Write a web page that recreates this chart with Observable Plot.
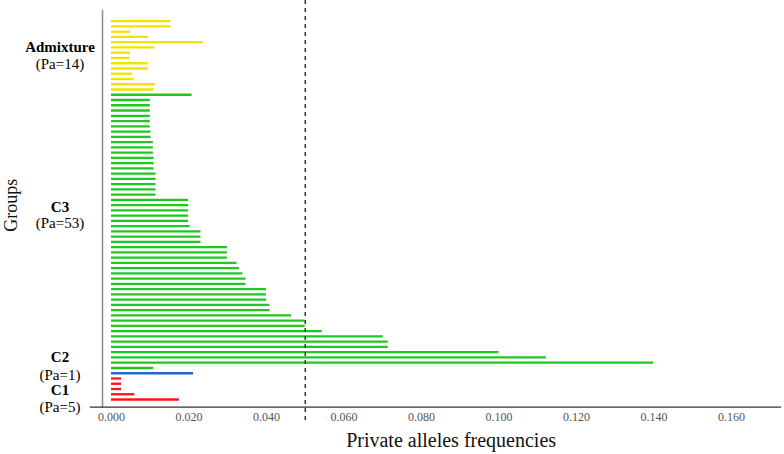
<!DOCTYPE html>
<html><head><meta charset="utf-8">
<script src="https://cdn.jsdelivr.net/npm/d3@7"></script>
<script src="https://cdn.jsdelivr.net/npm/@observablehq/plot@0.6"></script>
<style>body{margin:0;background:#fff}#chart svg{display:block}</style>
</head><body><div id="chart"></div>
<script>
// ---- data (each group listed top → bottom as drawn) ----
const groups = ["C1", "C2", "C3", "Admixture"];
const groupCounts = ["(Pa=5)", "(Pa=1)", "(Pa=53)", "(Pa=14)"];
const admixtureValues = [0.0154, 0.0154, 0.0049, 0.0095, 0.0237, 0.0112, 0.0049, 0.0048, 0.0095, 0.0095, 0.0054, 0.0058, 0.0114, 0.0110];
const c3Values = [0.0208, 0.0100, 0.0100, 0.0100, 0.0100, 0.0100, 0.0100, 0.0102, 0.0102, 0.0108,
  0.0108, 0.0108, 0.0110, 0.0110, 0.0110, 0.0115, 0.0115, 0.0115, 0.0115, 0.0115,
  0.0199, 0.0199, 0.0199, 0.0199, 0.0199, 0.0203, 0.0231, 0.0231, 0.0231, 0.0299,
  0.0299, 0.0299, 0.0324, 0.0330, 0.0339, 0.0347, 0.0347, 0.0400, 0.0400, 0.0400,
  0.0409, 0.0409, 0.0465, 0.0500, 0.0500, 0.0544, 0.0701, 0.0714, 0.0714, 0.1000,
  0.1122, 0.1399, 0.0109];
const c2Values = [0.0212];
const c1Values = [0.0026, 0.0026, 0.0026, 0.0060, 0.0175];
const xTicks = [0, 0.02, 0.04, 0.06, 0.08, 0.10, 0.12, 0.14, 0.16];
const threshold = [0.05];
const xLabel = "Private alleles frequencies";
const yLabel = "Groups";

// ---- build table ----
const valuesByGroup = {Admixture: admixtureValues, C3: c3Values, C2: c2Values, C1: c1Values};
const rows = [];
["Admixture", "C3", "C2", "C1"].forEach(g => valuesByGroup[g].forEach(v => rows.push({group: g, value: v})));
const n = rows.length;
rows.forEach((r, i) => r.idx = n - 1 - i);

// label layout (position along the bar index axis)
const namePos = {C1: 1.81, C2: 8.09, C3: 36.54, Admixture: 67.0};
const countPos = {C1: -1.52, C2: 4.57, C3: 33.6, Admixture: 63.9};
const names = groups.map((g, i) => ({text: g, y: namePos[g]}));
const counts = groups.map((g, i) => ({text: groupCounts[i], y: countPos[g]}));

const colors = ["#ff1414", "#2a62cc", "#1ec81e", "#f0e300"];

const plot = Plot.plot({
  width: 784, height: 454,
  marginTop: 13, marginBottom: 47.3, marginLeft: 102, marginRight: 4,
  x: {domain: [0, 0.16], range: [111, 731]},
  y: {domain: [0, n - 1], range: [399, 20.7], axis: null},
  color: {domain: groups, range: colors},
  style: {fontFamily: "'Liberation Serif', 'Times New Roman', serif", background: "white"},
  marks: [
    Plot.frame({anchor: "left", stroke: "#8a8a8a", strokeWidth: 1.5, insetTop: -3}),
    Plot.frame({anchor: "bottom", stroke: "#333", strokeWidth: 1.3, insetLeft: -12}),
    Plot.ruleY(rows, {y: "idx", x1: 0, x2: "value", stroke: "group", strokeWidth: 2.3}),
    Plot.ruleX(threshold, {stroke: "#2a2a2a", strokeWidth: 1.4, strokeDasharray: "4,4", insetTop: -13, insetBottom: -15}),
    Plot.axisX(xTicks, {tickSize: 0, tickPadding: 5, tickFormat: d3.format(".3f"), fontSize: 12, color: "#555", label: null}),
    Plot.text([xLabel], {frameAnchor: "bottom", lineAnchor: "bottom", dx: 9.6, dy: 40, fontSize: 20, fill: "#111"}),
    Plot.text([yLabel], {frameAnchor: "left", textAnchor: "middle", rotate: -90, dx: -91, dy: -5, fontSize: 18, fill: "#111"}),
    Plot.text(names, {y: "y", text: "text", frameAnchor: "left", dx: -42.5, textAnchor: "middle", fontSize: 15, fontWeight: "bold", fill: "#000"}),
    Plot.text(counts, {y: "y", text: "text", frameAnchor: "left", dx: -42.5, textAnchor: "middle", fontSize: 15, fill: "#000"})
  ]
});
document.getElementById("chart").appendChild(plot);
</script>
</body></html>
